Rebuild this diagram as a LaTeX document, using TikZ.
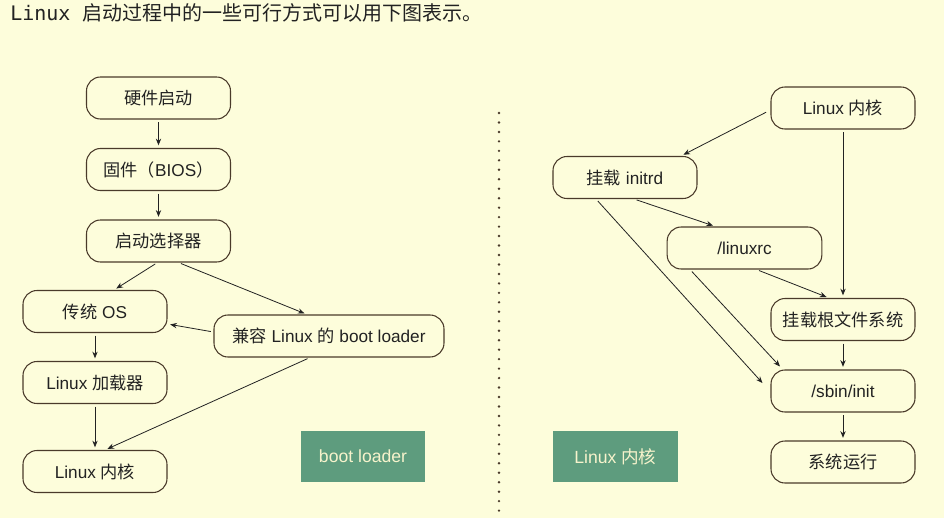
\documentclass[tikz,border=0pt]{standalone}
\usepackage{fontspec}
\setmainfont{Liberation Sans}
\newfontfamily\cjk{Noto Sans CJK SC}
\newfontfamily\monof{DejaVu Sans Mono}
\usetikzlibrary{arrows.meta,calc}
\definecolor{bg}{HTML}{FDFDDB}
\definecolor{bd}{HTML}{4A3A2A}
\definecolor{gr}{HTML}{5E9C7E}
\definecolor{gtxt}{HTML}{F7F3CC}
\definecolor{txt}{HTML}{222222}
\begin{document}
\begin{tikzpicture}[x=0.75pt,y=-0.75pt,
  box/.style={draw=bd, line width=0.8pt, rounded corners=10.5pt, fill=bg,
    minimum width=108pt, minimum height=31.5pt, inner sep=0pt, text=txt,
    font=\fontsize{12.9}{15}\selectfont},
  tag/.style={fill=gr, minimum width=93pt, minimum height=38.25pt, inner sep=0pt,
    text=gtxt, font=\fontsize{13.2}{15}\selectfont},
  arr/.style={-{Stealth[length=5pt,width=4pt]}, draw=txt, line width=0.6pt,
    shorten <=2pt, shorten >=2pt}
]
\fill[bg] (0,0) rectangle (944,518);
\useasboundingbox (0,0) rectangle (944,518);

\node[anchor=west, text=txt, inner sep=0pt] (title) at (10,13)
  {{\fontsize{15}{18}\monof Linux }{\fontsize{15}{18}\cjk 启动过程中的一些可行方式可以用下图表示。}};

% left column
\node[box] (hw)   at (158.5,98)   {\cjk 硬件启动};
\node[box] (bios) at (158.5,169.5) {{\cjk 固件（}BIOS{\cjk ）}};
\node[box] (sel)  at (158.5,241)  {\cjk 启动选择器};
\node[box] (os)   at (95,311.5)   {{\cjk 传统} OS};
\node[box, minimum width=172.5pt] (bl) at (329,336) {{\cjk 兼容} Linux {\cjk 的} boot loader};
\node[box] (ldr)  at (95,382.5)   {Linux {\cjk 加载器}};
\node[box] (kl)   at (95,471.5)   {Linux {\cjk 内核}};
\node[tag] (tbl)  at (363,456.5)  {boot loader};

\draw[arr] (hw) -- (bios);
\draw[arr] (bios) -- (sel);
\draw[arr] ($(sel.south)+(-1,0)$) -- ($(os.north)+(19,0)$);
\draw[arr] ($(sel.south)+(20,0)$) -- ($(bl.north)+(-22,0)$);
\draw[arr] ($(bl.west)+(0,-4)$) -- ($(os.east)+(0,12.5)$);
\draw[arr] ($(bl.south)+(-19,0)$) -- ($(kl.north)+(10,0)$);
\draw[arr] (os) -- (ldr);
\draw[arr] (ldr) -- (kl);

% divider
\coordinate (dtop) at (499,113);
\coordinate (dbot) at (499,518);
\draw[bd, line width=2pt, line cap=round, dash pattern=on 0pt off 7.1pt] (dtop) -- (dbot);

% right column
\node[box] (kr)   at (843,108)   {Linux {\cjk 内核}};
\node[box] (ird)  at (625,177.5) {{\cjk 挂载} initrd};
\node[box, minimum width=116pt] (lrc) at (744.5,248) {/linuxrc};
\node[box] (rfs)  at (843,319.5) {\cjk 挂载根文件系统};
\node[box] (sbin) at (843,391)   {/sbin/init};
\node[box] (run)  at (843,462)   {\cjk 系统运行};
\node[tag, minimum width=93.75pt] (tlk) at (615.5,456.5) {Linux {\cjk 内核}};

\draw[arr] ($(kr.west)+(-2,3)$) -- ($(ird.north)+(56,0)$);
\draw[arr] (kr) -- (rfs);
\draw[arr] ($(ird.south)+(9,0)$) -- ($(lrc.north)+(-29,0)$);
\draw[arr] ($(lrc.south)+(12,0)$) -- ($(rfs.north)+(-14,0)$);
\draw[arr, shorten >=0pt] ($(ird.south)+(-29,0)$) -- ($(sbin.west)+(-8,-8)$);
\draw[arr, shorten >=0pt] ($(lrc.south)+(-54.5,0)$) -- ($(sbin.north)+(-63,-3)$);
\draw[arr] (rfs) -- (sbin);
\draw[arr] (sbin) -- (run);
\end{tikzpicture}
\end{document}
